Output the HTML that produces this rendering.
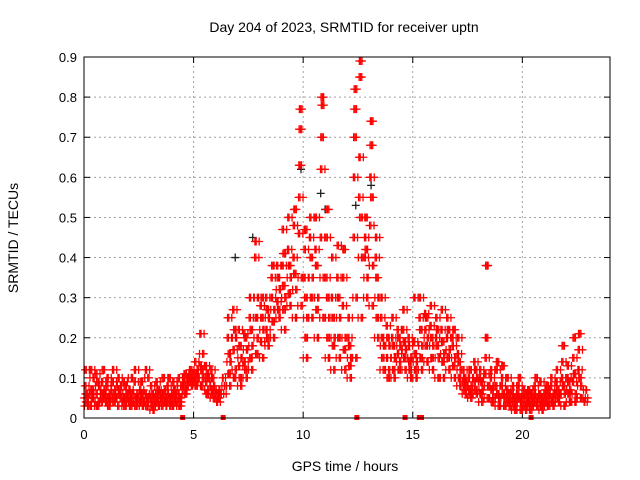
<!DOCTYPE html>
<html><head><meta charset="utf-8"><style>
body{margin:0;background:#fff;}
svg{display:block;font-family:"Liberation Sans",sans-serif;}
</style></head><body>
<svg id="chart" width="640" height="480">
<text x="344" y="32" text-anchor="middle" font-size="14">Day 204 of 2023, SRMTID for receiver uptn</text>
<text x="345" y="471" text-anchor="middle" font-size="14">GPS time / hours</text>
<text transform="translate(18,238) rotate(-90)" text-anchor="middle" font-size="14">SRMTID / TECUs</text>
<g id="grid"></g><g id="ticks"></g><g id="blk"></g><g id="red"></g><g id="sq"></g>
<rect x="84" y="57" width="526" height="361" fill="none" stroke="#000" stroke-width="1"/>
</svg>
<script>
const binStarts=[0,0.25,0.5,0.75,1,1.25,1.5,1.75,2,2.25,2.5,2.75,3,3.25,3.5,3.75,4,4.25,4.5,4.75,5,5.25,5.5,5.75,6,6.25,6.5,6.75,7,7.25,7.5,7.75,8,8.25,8.5,8.75,9,9.25,9.5,9.75,10,10.25,10.5,10.75,11,11.25,11.5,11.75,12,12.25,12.5,12.75,13,13.25,13.5,13.75,14,14.25,14.5,14.75,15,15.25,15.5,15.75,16,16.25,16.5,16.75,17,17.25,17.5,17.75,18,18.25,18.5,18.75,19,19.25,19.5,19.75,20,20.25,20.5,20.75,21,21.25,21.5,21.75,22,22.25,22.5,22.75];
const binValues=[
[.05,.03,.08,.12,.06,.04],[.06,.1,.03,.12,.07,.05],[.04,.08,.11,.06,.03,.09],[.05,.07,.04,.09,.06,.12],
[.06,.04,.08,.1,.05,.03],[.07,.05,.09,.12,.04,.06],[.05,.08,.03,.1,.06,.07],[.04,.06,.09,.05,.03,.08],
[.06,.1,.04,.07,.05,.03],[.04,.06,.09,.12,.03,.05],[.05,.03,.07,.04,.09,.06],[.04,.1,.06,.12,.03,.05],
[.02,.05,.08,.04,.06,.03],[.03,.06,.09,.05,.04,.07],[.04,.07,.05,.03,.1,.06],[.05,.03,.08,.06,.04,.1],
[.04,.06,.03,.09,.05,.07],[.04,.08,.06,.1,.05,.03],[.07,.09,.1,.08,.11,.06],[.08,.1,.11,.09,.12,.1],
[.09,.12,.1,.14,.08,.11],[.1,.16,.21,.13,.08,.12],[.07,.1,.13,.09,.06,.11],[.05,.08,.12,.06,.1,.07],
[.05,.07,.04,.06],[.06,.08,.1],[.08,.14,.2,.25,.11,.16],[.12,.2,.27,.17,.1,.22],
[.08,.15,.22,.13,.18,.1],[.1,.17,.21,.14,.2,.12],[.12,.18,.25,.3,.15,.22],[.2,.3,.4,.44,.25,.16],
[.15,.22,.28,.19,.25,.3],[.18,.25,.3,.22,.27,.2],[.2,.27,.35,.3,.38,.24],[.25,.32,.38,.29,.35,.27],
[.22,.3,.38,.47,.33,.27,.41],[.28,.35,.42,.5,.31,.38],[.25,.32,.4,.48,.36,.52],[.28,.35,.46,.55,.63,.72,.77],
[.15,.25,.35,.42,.47,.3,.2],[.25,.35,.45,.5,.4,.3],[.2,.3,.42,.5,.38,.27],[.25,.35,.45,.62,.7,.8,.78],
[.15,.25,.35,.45,.52,.3,.2],[.12,.2,.3,.4,.25,.18],[.15,.25,.35,.43,.3,.2],[.12,.2,.28,.35,.42,.17],
[.1,.15,.2,.25,.18,.13],[.15,.3,.45,.6,.7,.77,.82],[.25,.4,.55,.65,.85,.89,.5],[.3,.35,.4,.45,.5,.42],
[.28,.38,.48,.6,.68,.74,.55],[.2,.3,.4,.45,.35,.25],[.12,.18,.25,.3,.2,.15],[.12,.18,.23,.15,.2,.1],
[.1,.15,.2,.25,.18,.12],[.14,.18,.22,.16,.2,.12],[.12,.17,.22,.27,.19,.15],[.1,.15,.2,.18,.14,.12],
[.1,.14,.19,.3,.16,.12],[.12,.18,.25,.3,.22,.15],[.14,.2,.26,.22,.18,.25],[.12,.18,.23,.28,.2,.15],
[.1,.15,.2,.25,.18,.22],[.1,.16,.22,.27,.19,.14],[.12,.17,.2,.25,.15,.22],[.1,.15,.2,.18,.13,.22],
[.08,.12,.16,.2,.14,.1],[.06,.09,.12,.08,.1,.07],[.05,.08,.1,.07,.12,.06],[.06,.1,.14,.09,.12,.07],
[.04,.07,.1,.12,.06,.09],[.05,.08,.11,.15,.2,.38],[.05,.08,.1,.12,.07,.04],[.03,.05,.08,.12,.14,.06],
[.03,.05,.08,.1,.13,.06],[.03,.05,.07,.1,.04,.06],[.02,.04,.06,.08,.05,.03],[.02,.04,.06,.08,.1,.05],
[.02,.04,.05,.07,.03,.06],[.03,.05,.07,.04,.06,.02],[.03,.05,.08,.06,.04,.1],[.02,.04,.06,.09,.05,.03],
[.03,.05,.07,.04,.06,.08],[.03,.06,.08,.1,.05,.04],[.04,.06,.09,.12,.07,.05],[.03,.06,.1,.14,.18,.08],
[.04,.07,.1,.13,.09,.06],[.04,.06,.09,.15,.2,.11],[.05,.08,.12,.17,.21,.1],[.05,.07,.04]];
const blackTimes=[9.9,10.8,12.4,7.7,18.4,13.1,6.9,11.0];
const blackValues=[.62,.56,.53,.45,.38,.58,.4,.52];
const outageTimes=[4.5,6.35,12.45,14.65,15.3,15.4,20.4];
const xTicks=[0,5,10,15,20];
const yTicks=[0,0.1,0.2,0.3,0.4,0.5,0.6,0.7,0.8,0.9];

const X0=84,X1=610,Y0=418,Y1=57,XMAX=24,YMAX=0.9;
const xs=v=>X0+(X1-X0)*v/XMAX;
const ys=v=>Y0-(Y0-Y1)*v/YMAX;
const NS="http://www.w3.org/2000/svg";
function mk(tag,parent,attrs){const e=document.createElementNS(NS,tag);for(const k in attrs)e.setAttribute(k,attrs[k]);document.getElementById(parent).appendChild(e);return e;}
function cross(parent,x,y,color){return mk('path',parent,{d:`M${x-4},${y}h8M${x},${y-4}v8`,stroke:color,'stroke-width':1.3,fill:'none'});}

yTicks.forEach(t=>{
  const y=ys(t);
  if(t>0&&t<YMAX){const g=mk('line','grid',{x1:X0,x2:X1,y1:y,y2:y,stroke:'#a0a0a0','stroke-dasharray':'2,3'});
  
  }
  mk('line','ticks',{x1:X0,x2:X0+6,y1:y,y2:y,stroke:'#000'});
  mk('line','ticks',{x1:X1,x2:X1-6,y1:y,y2:y,stroke:'#000'});
  const l=mk('text','ticks',{x:X0-7,y:y+5,'text-anchor':'end','font-size':13});
  l.textContent=String(t);
  
  
});
xTicks.forEach(t=>{
  const x=xs(t);
  if(t>0){const g=mk('line','grid',{x1:x,x2:x,y1:Y0,y2:Y1,stroke:'#a0a0a0','stroke-dasharray':'2,3'});
  
  }
  mk('line','ticks',{x1:x,x2:x,y1:Y0,y2:Y0-6,stroke:'#000'});
  mk('line','ticks',{x1:x,x2:x,y1:Y1,y2:Y1+6,stroke:'#000'});
  const l=mk('text','ticks',{x:x,y:Y0+21,'text-anchor':'middle','font-size':13});
  l.textContent=String(t);
  
  
});
blackTimes.forEach((t,i)=>{
  const e=cross('blk',xs(t),ys(blackValues[i]),'#202020');
  
  
});
const REPS=3;
binStarts.forEach((s,b)=>{
  const vals=binValues[b];
  const n=vals.length;
  for(let r=0;r<REPS;r++){
    for(let j=0;j<n;j++){
      const v=vals[(j+r*2)%n];
      const t=s+(r*n+j+0.5)/(n*REPS)*0.25;
      const e=cross('red',xs(t),ys(v),'#ff0000');
      
      
    }
  }
});
outageTimes.forEach(t=>{
  const e=mk('rect','sq',{x:xs(t)-2.5,y:Y0-3,width:5,height:5,fill:'#ff0000'});
  
  
});
</script>
</body></html>
